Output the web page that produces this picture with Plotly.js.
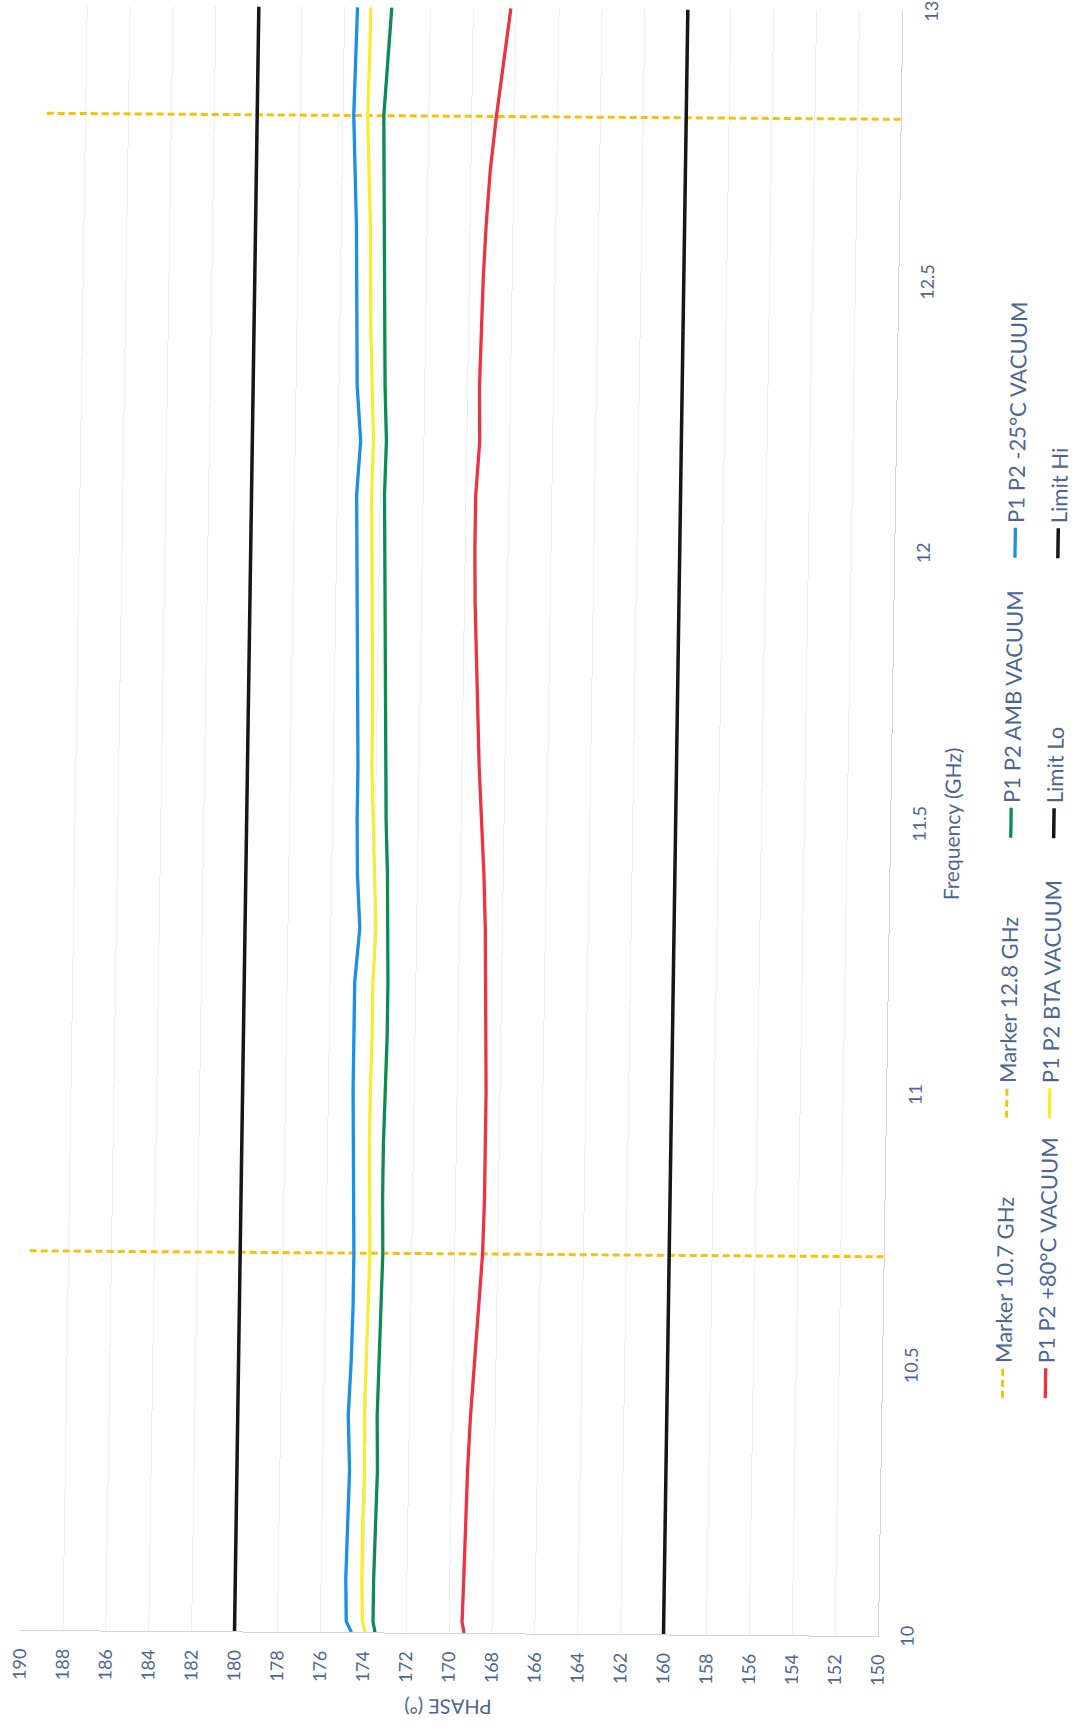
<!DOCTYPE html>
<html><head><meta charset="utf-8">
<script src="https://cdn.plot.ly/plotly-3.0.1.min.js"></script>
<style>
html,body{margin:0;padding:0;width:1074px;height:1728px;overflow:hidden;background:#ffffff;}
#chart{position:absolute;left:0;top:0;width:1728px;height:1074px;transform-origin:0 0;
transform: matrix(1,0.00705,-0.01497,1,24.5,-6.2) translate(0px,1728px) rotate(-90deg);}
</style></head><body><div id="chart"></div>
<script>
// ---- data ----
const freq = [10.0, 10.02, 10.1, 10.2, 10.3, 10.4, 10.5, 10.6, 10.7, 10.8, 10.9, 11.0, 11.1, 11.2, 11.3, 11.4, 11.5, 11.6, 11.7, 11.8, 11.9, 12.0, 12.1, 12.2, 12.3, 12.4, 12.5, 12.6, 12.7, 12.8, 12.9, 13.0];
const phaseMinus25 = [174.55, 174.8, 174.85, 174.8, 174.75, 174.85, 174.75, 174.7, 174.7, 174.75, 174.8, 174.85, 174.85, 174.85, 174.65, 174.8, 174.85, 174.85, 174.9, 174.95, 175.0, 175.05, 175.1, 174.95, 175.15, 175.2, 175.25, 175.3, 175.4, 175.5, 175.45, 175.4];
const phaseBTA = [173.9, 174.05, 174.1, 174.1, 174.05, 174.1, 174.05, 174.0, 173.95, 174.0, 174.05, 174.05, 174.0, 174.0, 173.9, 174.0, 174.1, 174.2, 174.2, 174.25, 174.3, 174.35, 174.4, 174.35, 174.45, 174.55, 174.6, 174.65, 174.75, 174.85, 174.8, 174.78];
const phaseAMB = [173.45, 173.55, 173.55, 173.5, 173.45, 173.5, 173.45, 173.4, 173.35, 173.4, 173.4, 173.35, 173.3, 173.3, 173.35, 173.4, 173.5, 173.55, 173.6, 173.65, 173.7, 173.75, 173.8, 173.75, 173.85, 173.9, 173.95, 174.0, 174.05, 174.1, 173.95, 173.8];
const phasePlus80 = [169.3, 169.4, 169.35, 169.3, 169.25, 169.15, 169.0, 168.85, 168.7, 168.65, 168.65, 168.65, 168.7, 168.75, 168.8, 168.9, 169.05, 169.2, 169.3, 169.4, 169.5, 169.55, 169.55, 169.4, 169.45, 169.4, 169.35, 169.25, 169.1, 168.85, 168.55, 168.25];
const markerFreqs = [10.7, 12.8];
const markerNames = ['Marker 10.7 GHz', 'Marker 12.8 GHz'];
const limitHi = 180;
const limitLo = 160;
const freqRange = [10, 13];
const phaseRange = [150, 190];
const freqTickVals = [10, 10.5, 11, 11.5, 12, 12.5, 13];
const freqTickText = ['10', '10.5', '11', '11.5', '12', '12.5', '13'];
const phaseTickVals = [150, 152, 154, 156, 158, 160, 162, 164, 166, 168, 170, 172, 174, 176, 178, 180, 182, 184, 186, 188, 190];

// ---- style ----
const FONT = 'Lato, "Open Sans", sans-serif';
const TXT = '#4d6790';
const GOLD = '#f4c20d';

const traces = [
  {x:[markerFreqs[0], markerFreqs[0]], y:phaseRange, name:markerNames[0], mode:'lines', line:{color:GOLD, width:3, dash:'7px,4px'}, legend:'legend'},
  {x:[markerFreqs[1], markerFreqs[1]], y:phaseRange, name:markerNames[1], mode:'lines', line:{color:GOLD, width:3, dash:'7px,4px'}, legend:'legend'},
  {x:freq, y:phaseAMB, name:'P1 P2 AMB VACUUM', mode:'lines', line:{color:'#0f8a52', width:3.3}, legend:'legend'},
  {x:freq, y:phaseMinus25, name:'P1 P2 -25°C VACUUM', mode:'lines', line:{color:'#1c90e6', width:3.3}, legend:'legend'},
  {x:freq, y:phasePlus80, name:'P1 P2 +80°C VACUUM', mode:'lines', line:{color:'#ec3344', width:3.3}, legend:'legend2'},
  {x:freq, y:phaseBTA, name:'P1 P2 BTA VACUUM', mode:'lines', line:{color:'#f4ee3a', width:3.3}, legend:'legend2'},
  {x:freqRange, y:[limitLo, limitLo], name:'Limit Lo', mode:'lines', line:{color:'#161616', width:3.5}, legend:'legend2'},
  {x:freqRange, y:[limitHi, limitHi], name:'Limit Hi', mode:'lines', line:{color:'#161616', width:3.5}, legend:'legend2'}
];

const legendBase = {orientation:'h', xanchor:'left', yanchor:'middle', x:0.144,
  entrywidth:235, entrywidthmode:'pixels', bgcolor:'rgba(0,0,0,0)', borderwidth:0,
  font:{family:FONT, size:22, color:TXT}};

const layout = {
  width:1728, height:1074,
  margin:{l:92, r:11, t:20, b:196, pad:0, autoexpand:false},
  paper_bgcolor:'#ffffff', plot_bgcolor:'#ffffff',
  font:{family:FONT, size:18, color:TXT},
  hovermode:false,
  showlegend:true,
  xaxis:{range:freqRange, tickmode:'array', tickvals:freqTickVals, ticktext:freqTickText,
    showgrid:false, zeroline:false, showline:true, linecolor:'#d4d4d4', linewidth:1,
    ticks:'', ticklabelstandoff:13, automargin:false,
    tickfont:{family:FONT, size:18, color:TXT},
    title:{text:'Frequency (GHz)', font:{family:FONT, size:21, color:TXT}, standoff:16}},
  yaxis:{range:phaseRange, tickmode:'array', tickvals:phaseTickVals,
    showgrid:true, gridcolor:'#efefef', gridwidth:1, zeroline:false,
    showline:true, linecolor:'#d4d4d4', linewidth:1,
    ticks:'', ticklabelstandoff:14, automargin:false,
    tickfont:{family:FONT, size:18, color:TXT},
    title:{text:'PHASE (°)', font:{family:FONT, size:20, color:TXT}, standoff:10}},
  legend:Object.assign({}, legendBase, {y:-0.141}),
  legend2:Object.assign({}, legendBase, {y:-0.191})
};

Plotly.newPlot('chart', traces, layout, {staticPlot:true, displayModeBar:false});
</script></body></html>
